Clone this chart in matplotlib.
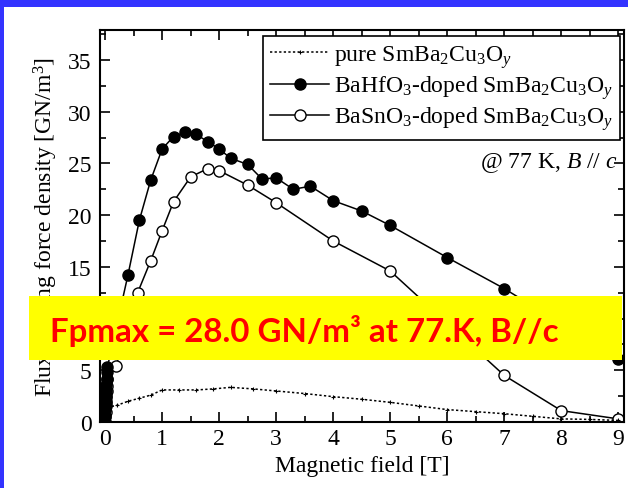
import matplotlib
matplotlib.use("Agg")
import matplotlib.pyplot as plt
from matplotlib.patches import Rectangle
from matplotlib.ticker import MultipleLocator

# values (field in T, Fp in GN/m^3)
field_pure = [0.0, 0.005, 0.01, 0.02, 0.03, 0.05, 0.1, 0.2, 0.4, 0.6, 0.8, 1.0, 1.3, 1.6,
              1.9, 2.2, 2.6, 3.0, 3.5, 4.0, 4.5, 5.0, 5.5, 6.0, 6.5, 7.0, 7.5, 8.0, 8.5, 9.0]
fp_pure = [0.0, 0.3, 0.6, 0.9, 1.1, 1.3, 1.5, 1.6, 2.0, 2.3, 2.6, 3.1, 3.1, 3.1,
           3.2, 3.35, 3.2, 3.0, 2.75, 2.45, 2.2, 1.9, 1.55, 1.2, 1.0, 0.8, 0.55, 0.3, 0.25, 0.15]

field_hf = [0.0, 0.003, 0.006, 0.01, 0.013, 0.016, 0.02, 0.025, 0.03, 0.04,
            0.40, 0.60, 0.80, 1.00, 1.20, 1.40, 1.60, 1.80, 2.00, 2.20, 2.50, 2.75,
            3.00, 3.30, 3.60, 4.00, 4.50, 5.00, 6.00, 7.00, 9.00]
fp_hf = [0.0, 0.6, 1.2, 1.8, 2.4, 3.0, 3.6, 4.2, 4.8, 5.3,
         14.2, 19.5, 23.4, 26.4, 27.6, 28.0, 27.8, 27.1, 26.4, 25.5, 24.9, 23.5,
         23.6, 22.5, 22.8, 21.4, 20.4, 19.0, 15.9, 12.9, 6.1]

field_sn = [0.0, 0.004, 0.008, 0.012, 0.016, 0.02, 0.025, 0.03, 0.04,
            0.19, 0.57, 0.80, 1.00, 1.20, 1.50, 1.80, 2.00, 2.50, 3.00, 4.00, 5.00,
            7.00, 8.00, 9.00]
fp_sn = [0.0, 0.5, 1.0, 1.5, 2.0, 2.5, 3.0, 3.5, 4.2,
         5.4, 12.5, 15.6, 18.5, 21.3, 23.7, 24.5, 24.3, 22.9, 21.2, 17.5, 14.6,
         4.5, 1.1, 0.3]

labels = ['pure SmBa$_2$Cu$_3$O$_y$',
          'BaHfO$_3$-doped SmBa$_2$Cu$_3$O$_y$',
          'BaSnO$_3$-doped SmBa$_2$Cu$_3$O$_y$']
note = 'Fpmax = 28.0 GN/m³ at 77.K, B//c'

plt.rcParams['font.family'] = 'Liberation Serif'
plt.rcParams['mathtext.fontset'] = 'custom'
plt.rcParams['mathtext.rm'] = 'Liberation Serif'
plt.rcParams['mathtext.it'] = 'Liberation Serif:italic'

W, H = 628, 489
fig = plt.figure(figsize=(W / 100, H / 100), dpi=100)
ax = fig.add_axes([100 / W, 66 / H, 524 / W, 392 / H])

# open circles first so the filled ones cover the low-field pile
l_sn, = ax.plot(field_sn, fp_sn, '-', color='black', lw=1.1, marker='o', ms=8,
                mfc='white', mec='black', mew=1.0, label=labels[2])
l_hf, = ax.plot(field_hf, fp_hf, '-', color='black', lw=1.1, marker='o', ms=8,
                mfc='black', mec='black', label=labels[1])
l_pure, = ax.plot(field_pure, fp_pure, ls=(0, (1.5, 1.5)), color='black', lw=1.1,
                  marker='+', ms=3, mew=0.8, label=labels[0])

ax.set_xlim(-0.09, 9.1)
ax.set_ylim(0, 37.9)
ax.xaxis.set_major_locator(MultipleLocator(1))
ax.xaxis.set_minor_locator(MultipleLocator(0.5))
ax.yaxis.set_major_locator(MultipleLocator(5))
ax.yaxis.set_minor_locator(MultipleLocator(2.5))
ax.tick_params(which='both', direction='in', top=True, right=True, width=1.2)
ax.tick_params(which='major', length=7, labelsize=17)
ax.tick_params(which='minor', length=4)
ax.tick_params(axis='x', pad=4)
ax.tick_params(axis='y', pad=6)
for s in ax.spines.values():
    s.set_linewidth(1.5)

ax.set_xlabel('Magnetic field [T]', fontsize=17, labelpad=5)
ax.set_ylabel('Flux pinning force density [GN/m$^3$]', fontsize=17, labelpad=6)

leg = ax.legend(handles=[l_pure, l_hf, l_sn], loc='upper left',
                bbox_to_anchor=(0.311, 0.985), fontsize=17,
                fancybox=False, edgecolor='black', framealpha=1, borderpad=0.3,
                labelspacing=0.15, handlelength=2.5, handletextpad=0.2,
                borderaxespad=0)
leg.get_frame().set_linewidth(1.2)

ax.text(0.9885, 0.663, '@ 77 K, $B$ // $c$', transform=ax.transAxes,
        ha='right', va='center', fontsize=17)

# blue frame of the slide
fig.patches.append(Rectangle((0, 1 - 8 / H), 1, 8 / H, transform=fig.transFigure,
                             facecolor='#3333FF', edgecolor='none', zorder=20))
fig.patches.append(Rectangle((0, 0), 4 / W, 1, transform=fig.transFigure,
                             facecolor='#3333FF', edgecolor='none', zorder=20))

# yellow call-out
fig.patches.append(Rectangle((29 / W, 128 / H), 593 / W, 64 / H, transform=fig.transFigure,
                             facecolor='#FFFF00', edgecolor='none', zorder=10))
fig.text(50 / W, 147 / H, note, color='#FF0000', fontfamily='Lato', fontweight='bold',
         fontsize=23.8, va='baseline', zorder=11)

fig.savefig('out.png', dpi=100)
